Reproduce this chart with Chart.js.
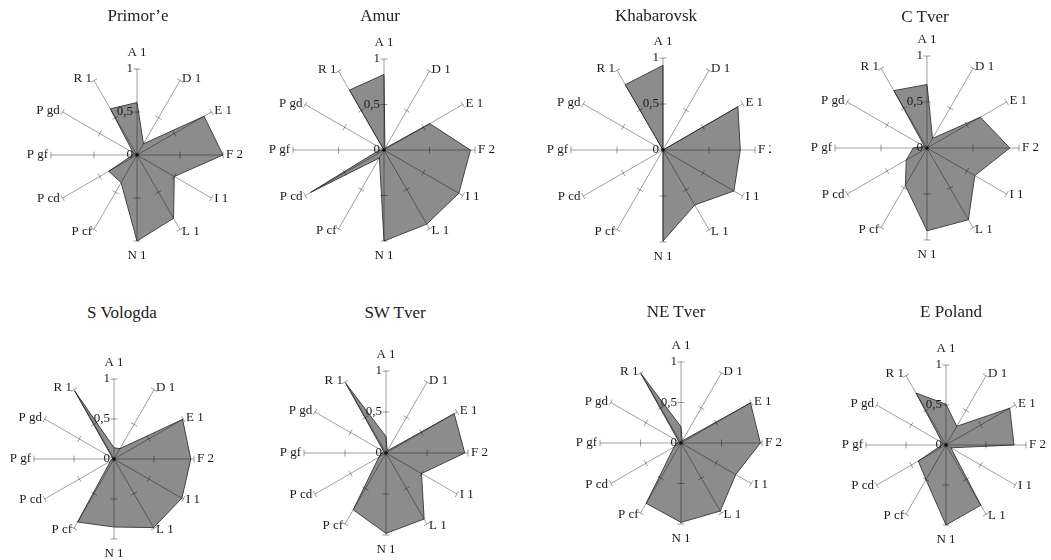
<!DOCTYPE html>
<html>
<head>
<meta charset="utf-8">
<script src="https://cdn.jsdelivr.net/npm/chart.js@4"></script>
<style>
  body { margin: 0; background: #fff; }
  #wrap { position: relative; width: 1051px; height: 560px; overflow: hidden; }
  .box { position: absolute; overflow: hidden; }
  .ttl { position: absolute; font-family: "Liberation Serif", "Times New Roman", Times, "DejaVu Serif", serif; font-size: 17px; color: #222; transform: translate(-50%, -50%); white-space: nowrap; }
</style>
</head>
<body>
<div id="wrap"></div>
<script>
// axes of every radar (same order everywhere)
const axisLabels = ['A 1', 'D 1', 'E 1', 'F 2', 'I 1', 'L 1', 'N 1', 'P cf', 'P cd', 'P gf', 'P gd', 'R 1'];
const regionNames = ['Primor\u2019e', 'Amur', 'Khabarovsk', 'C Tver', 'S Vologda', 'SW Tver', 'NE Tver', 'E Poland'];

// values, 0..1
const primorye   = [0.61, 0.15, 0.90, 1.00, 0.50, 0.85, 1.00, 0.37, 0.38, 0.05, 0.05, 0.62];
const amur       = [0.83, 0.02, 0.58, 0.95, 0.95, 0.94, 1.00, 0.10, 0.93, 0.05, 0.00, 0.76];
const khabarovsk = [0.92, 0.00, 0.94, 0.84, 0.89, 0.69, 0.99, 0.00, 0.00, 0.00, 0.00, 0.82];
const cTver      = [0.69, 0.12, 0.67, 0.90, 0.60, 0.90, 0.90, 0.47, 0.26, 0.15, 0.03, 0.72];
const sVologda   = [0.14, 0.15, 0.99, 0.96, 0.98, 0.99, 0.85, 0.91, 0.05, 0.02, 0.02, 0.98];
const swTver     = [0.20, 0.03, 0.96, 0.96, 0.50, 0.93, 0.98, 0.80, 0.10, 0.05, 0.03, 0.98];
const neTver     = [0.20, 0.03, 0.99, 0.98, 0.78, 0.97, 0.98, 0.86, 0.10, 0.05, 0.03, 0.99];
const ePoland    = [0.51, 0.27, 0.92, 0.85, 0.07, 0.87, 1.00, 0.50, 0.40, 0.05, 0.05, 0.75];
const seriesList = [primorye, amur, khabarovsk, cTver, sVologda, swTver, neTver, ePoland];

// placement of each small radar: centre, radius, title position, optional clip on the right
const panels = [
    { cx: 137, cy: 155, r: 86, tx: 138, ty: 16 },
    { cx: 384, cy: 150, r: 91, tx: 380, ty: 16 },
    { cx: 663, cy: 150, r: 92, tx: 656, ty: 16, clipRight: 771 },
    { cx: 927, cy: 148, r: 92, tx: 925, ty: 17 },
    { cx: 114, cy: 459, r: 80, tx: 122, ty: 313 },
    { cx: 386, cy: 453, r: 82, tx: 395, ty: 313 },
    { cx: 681, cy: 443, r: 81, tx: 676, ty: 312 },
    { cx: 946, cy: 445, r: 80, tx: 951, ty: 312 }
];

const PAD = 44;
const LABEL_FONT = '13px "Liberation Serif", "Times New Roman", Times, "DejaVu Serif", serif';

// draws the axes, tick marks and all labels above the filled polygon
const axesPlugin = {
    id: 'axesPlugin',
    afterDatasetsDraw(chart) {
        const sc = chart.scales.r;
        const ctx = chart.ctx;
        const n = chart.data.labels.length;
        ctx.save();
        ctx.strokeStyle = 'rgba(0,0,0,0.38)';
        ctx.lineWidth = 1;
        for (let i = 0; i < n; i++) {
            const a = sc.getIndexAngle(i) - Math.PI / 2;
            const end = sc.getPointPositionForValue(i, 1);
            ctx.beginPath();
            ctx.moveTo(sc.xCenter, sc.yCenter);
            ctx.lineTo(end.x, end.y);
            ctx.stroke();
            const px = -Math.sin(a), py = Math.cos(a);
            sc.ticks.forEach(t => {
                if (t.value <= 0) return;
                const p = sc.getPointPositionForValue(i, t.value);
                ctx.beginPath();
                ctx.moveTo(p.x - px * 3.5, p.y - py * 3.5);
                ctx.lineTo(p.x + px * 3.5, p.y + py * 3.5);
                ctx.stroke();
            });
        }

        // centre dot
        ctx.fillStyle = '#111';
        ctx.beginPath();
        ctx.arc(sc.xCenter, sc.yCenter, 1.8, 0, Math.PI * 2);
        ctx.fill();

        // tick labels along the first axis
        ctx.font = LABEL_FONT;
        ctx.fillStyle = '#1a1a1a';
        ctx.textAlign = 'right';
        ctx.textBaseline = 'middle';
        sc.ticks.forEach(t => {
            const p = sc.getPointPositionForValue(0, t.value);
            const txt = String(t.value).replace('.', ',');
            ctx.fillText(txt, p.x - 4, p.y);
        });

        // axis names
        for (let i = 0; i < n; i++) {
            const p = sc.getPointPosition(i, sc.drawingArea + 2);
            const half = n / 2;
            if (i === 0) {
                ctx.textAlign = 'center'; ctx.textBaseline = 'bottom';
                ctx.fillText(chart.data.labels[i], p.x, p.y - 8);
            } else if (i === half) {
                ctx.textAlign = 'center'; ctx.textBaseline = 'top';
                ctx.fillText(chart.data.labels[i], p.x, p.y + 6);
            } else if (i < half) {
                ctx.textAlign = 'left'; ctx.textBaseline = 'middle';
                ctx.fillText(chart.data.labels[i], p.x + 1, p.y);
            } else {
                ctx.textAlign = 'right'; ctx.textBaseline = 'middle';
                ctx.fillText(chart.data.labels[i], p.x - 1, p.y);
            }
        }
        ctx.restore();
    }
};

const wrap = document.getElementById('wrap');

panels.forEach((pn, k) => {
    const size = 2 * (pn.r + PAD);
    const left = pn.cx - size / 2;
    const top = pn.cy - size / 2;

    const box = document.createElement('div');
    box.className = 'box';
    box.style.left = left + 'px';
    box.style.top = top + 'px';
    box.style.width = (pn.clipRight ? pn.clipRight - left : size) + 'px';
    box.style.height = size + 'px';
    const canvas = document.createElement('canvas');
    canvas.width = size;
    canvas.height = size;
    box.appendChild(canvas);
    wrap.appendChild(box);

    const title = document.createElement('div');
    title.className = 'ttl';
    title.style.left = pn.tx + 'px';
    title.style.top = pn.ty + 'px';
    title.textContent = regionNames[k];
    wrap.appendChild(title);

    new Chart(canvas.getContext('2d'), {
        type: 'radar',
        data: {
            labels: axisLabels,
            datasets: [{
                data: seriesList[k],
                fill: true,
                backgroundColor: '#8c8c8c',
                borderColor: '#444',
                borderWidth: 1,
                pointRadius: 0,
                tension: 0
            }]
        },
        options: {
            responsive: false,
            animation: false,
            layout: { padding: PAD },
            plugins: { legend: { display: false }, tooltip: { enabled: false } },
            scales: {
                r: {
                    min: 0,
                    max: 1,
                    ticks: { display: false, stepSize: 0.5 },
                    grid: { display: false },
                    angleLines: { display: false },
                    pointLabels: { display: false }
                }
            }
        },
        plugins: [axesPlugin]
    });
});
</script>
</body>
</html>
